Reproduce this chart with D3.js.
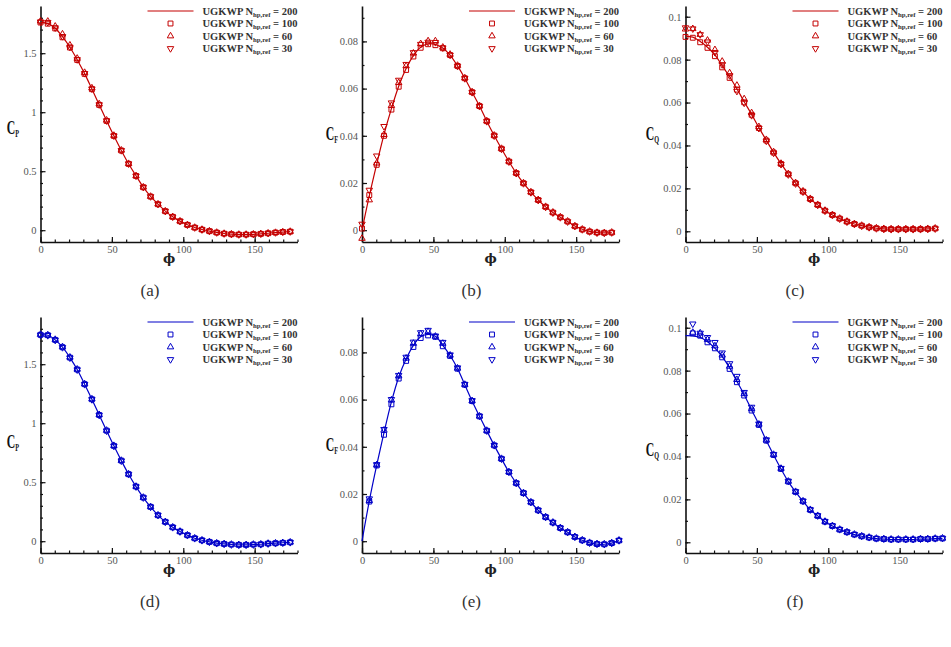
<!DOCTYPE html>
<html>
<head>
<meta charset="utf-8">
<script src="https://cdn.jsdelivr.net/npm/d3@7"></script>
<style>
  body { margin: 0; background: #fff; }
  svg text { font-family: "Liberation Serif", "Times New Roman", serif; }
  .legend text { font-size: 10.5px; font-weight: bold; fill: #333; }
  .caption { font-size: 17px; fill: #333; }
  .ylab { font-size: 19px; font-weight: bold; fill: #111; }
  .xlab { font-size: 13px; font-weight: bold; fill: #222; font-family: "DejaVu Serif", serif !important; }
</style>
</head>
<body>
<svg width="951" height="647"></svg>
<script>
// phi positions of the markers
const phiA = [0,5.1,10.3,15.4,20.6,25.7,30.9,36,41.1,46.3,51.4,56.6,61.7,66.9,72,77.1,82.3,87.4,92.6,97.7,102.9,108,113.1,118.3,123.4,128.6,133.7,138.9,144,149.1,154.3,159.4,164.6,169.7,174.9]
const phiB = [5.1,10.3,15.4,20.6,25.7,30.9,36,41.1,46.3,51.4,56.6,61.7,66.9,72,77.1,82.3,87.4,92.6,97.7,102.9,108,113.1,118.3,123.4,128.6,133.7,138.9,144,149.1,154.3,159.4,164.6,169.7,174.9,180]
const phiBLine = [0,5.1,10.3,15.4,20.6,25.7,30.9,36,41.1,46.3,51.4,56.6,61.7,66.9,72,77.1,82.3,87.4,92.6,97.7,102.9,108,113.1,118.3,123.4,128.6,133.7,138.9,144,149.1,154.3,159.4,164.6,169.7,174.9,180]

const legendLabels = ["200", "100", "60", "30"]
const captions = ["(a)", "(b)", "(c)", "(d)", "(e)", "(f)"]

// (a) Cp, red
const cpA_200 = [1.76,1.752,1.712,1.64,1.55,1.445,1.327,1.197,1.064,0.928,0.8,0.676,0.563,0.461,0.365,0.286,0.221,0.162,0.114,0.077,0.046,0.023,0.006,-0.008,-0.019,-0.028,-0.034,-0.037,-0.037,-0.035,-0.031,-0.026,-0.021,-0.016,-0.012]
const cpA_100 = [1.76,1.75,1.71,1.635,1.548,1.443,1.325,1.195,1.062,0.926,0.799,0.675,0.562,0.46,0.364,0.285,0.22,0.161,0.113,0.076,0.045,0.022,0.005,-0.008,-0.02,-0.029,-0.034,-0.037,-0.037,-0.034,-0.031,-0.026,-0.02,-0.015,-0.012]
const cpA_60 = [1.772,1.77,1.728,1.662,1.568,1.456,1.336,1.205,1.07,0.932,0.803,0.678,0.564,0.461,0.365,0.286,0.221,0.162,0.114,0.077,0.046,0.023,0.006,-0.007,-0.019,-0.028,-0.033,-0.036,-0.036,-0.034,-0.03,-0.025,-0.02,-0.015,-0.011]
const cpA_30 = [1.766,1.762,1.716,1.642,1.552,1.446,1.329,1.198,1.064,0.928,0.8,0.676,0.563,0.46,0.364,0.285,0.22,0.161,0.113,0.076,0.045,0.022,0.005,-0.008,-0.02,-0.029,-0.034,-0.037,-0.037,-0.034,-0.031,-0.026,-0.02,-0.015,-0.012]

// (b) Cf, red
const cfB_200 = [0,0.0145,0.028,0.0405,0.0515,0.061,0.0685,0.074,0.0775,0.079,0.0787,0.0772,0.0742,0.0696,0.0644,0.0585,0.0526,0.0462,0.0401,0.0345,0.0291,0.0242,0.0199,0.0161,0.0128,0.0099,0.0075,0.0055,0.0037,0.0018,0.0004,-0.0005,-0.001,-0.0011,-0.001]
const cfB_100 = [0.0007,0.0149,0.0277,0.04,0.0511,0.0608,0.0679,0.0736,0.0773,0.0788,0.0784,0.0771,0.0742,0.0696,0.0644,0.0585,0.0526,0.0462,0.0401,0.0345,0.0291,0.0242,0.0199,0.0161,0.0128,0.0099,0.0075,0.0055,0.0037,0.0017,0.0003,-0.0006,-0.001,-0.0011,-0.001]
const cfB_60 = [-0.0035,0.0128,0.0284,0.0405,0.0528,0.0625,0.0696,0.075,0.079,0.0802,0.0802,0.0775,0.0745,0.0698,0.0645,0.0586,0.0527,0.0463,0.0402,0.0346,0.0292,0.0243,0.02,0.0162,0.0129,0.01,0.0076,0.0056,0.0038,0.0018,0.0004,-0.0005,-0.001,-0.0011,-0.0009]
const cfB_30 = [0.0026,0.017,0.0315,0.044,0.054,0.0636,0.0703,0.0753,0.0788,0.0797,0.0796,0.0773,0.0742,0.0695,0.0643,0.0584,0.0525,0.0461,0.04,0.0344,0.029,0.0241,0.0198,0.016,0.0127,0.0098,0.0074,0.0054,0.0036,0.0017,0.0003,-0.0006,-0.0011,-0.0012,-0.001]

// (c) Cq, red
const cqC_200 = [0.091,0.0905,0.0885,0.0858,0.0822,0.0772,0.072,0.0664,0.0604,0.0545,0.0483,0.0424,0.0368,0.0315,0.0267,0.0224,0.0185,0.015,0.0123,0.0096,0.0076,0.0059,0.0045,0.0034,0.0026,0.0019,0.0014,0.0011,0.001,0.001,0.001,0.001,0.001,0.0011,0.0013]
const cqC_100 = [0.0906,0.0902,0.0881,0.0855,0.0816,0.0764,0.0715,0.066,0.0601,0.0543,0.0481,0.0423,0.0367,0.0314,0.0266,0.0224,0.0185,0.015,0.0123,0.0096,0.0076,0.0059,0.0045,0.0034,0.0026,0.0019,0.0014,0.0011,0.001,0.001,0.001,0.001,0.001,0.0011,0.0013]
const cqC_60 = [0.0942,0.0944,0.0917,0.089,0.0846,0.0792,0.0738,0.068,0.0617,0.0552,0.0487,0.0427,0.037,0.0316,0.0268,0.0226,0.0187,0.0152,0.0124,0.0097,0.0077,0.006,0.0046,0.0035,0.0027,0.002,0.0015,0.0012,0.0011,0.0011,0.0011,0.0011,0.0011,0.0012,0.0014]
const cqC_30 = [0.0949,0.0944,0.0917,0.0883,0.0834,0.0777,0.0726,0.0653,0.0598,0.054,0.048,0.0421,0.0365,0.0312,0.0264,0.0222,0.0184,0.0149,0.0122,0.0095,0.0075,0.0058,0.0044,0.0033,0.0025,0.0018,0.0013,0.001,0.0009,0.0009,0.0009,0.0009,0.0009,0.001,0.0012]

// (d) Cp, blue
const cpD_200 = [1.749,1.745,1.706,1.644,1.556,1.455,1.331,1.203,1.07,0.937,0.808,0.683,0.568,0.463,0.37,0.291,0.221,0.164,0.118,0.082,0.051,0.025,0.008,-0.006,-0.017,-0.023,-0.028,-0.031,-0.031,-0.029,-0.026,-0.021,-0.017,-0.013,-0.009]
const cpD_100 = [1.749,1.746,1.706,1.644,1.556,1.455,1.331,1.203,1.07,0.937,0.808,0.683,0.568,0.463,0.37,0.291,0.22,0.164,0.118,0.082,0.051,0.025,0.008,-0.006,-0.017,-0.023,-0.028,-0.031,-0.031,-0.028,-0.026,-0.02,-0.017,-0.014,-0.009]
const cpD_60 = [1.752,1.748,1.709,1.647,1.559,1.457,1.333,1.205,1.072,0.939,0.81,0.684,0.569,0.464,0.371,0.292,0.221,0.165,0.119,0.083,0.052,0.026,0.009,-0.005,-0.016,-0.022,-0.027,-0.03,-0.03,-0.027,-0.025,-0.019,-0.016,-0.013,-0.008]
const cpD_30 = [1.747,1.744,1.704,1.642,1.554,1.453,1.329,1.201,1.068,0.935,0.806,0.681,0.567,0.462,0.369,0.29,0.22,0.163,0.117,0.081,0.05,0.024,0.007,-0.007,-0.018,-0.024,-0.029,-0.032,-0.032,-0.029,-0.027,-0.021,-0.018,-0.014,-0.01]

// (e) Cf, blue
const cfE_200 = [0,0.017,0.0322,0.046,0.059,0.0695,0.0772,0.083,0.0866,0.0876,0.0868,0.083,0.0787,0.0732,0.0663,0.0594,0.0529,0.0468,0.0406,0.0349,0.0293,0.0246,0.0204,0.0165,0.0131,0.0102,0.0079,0.0056,0.0038,0.0018,0.0004,-0.0007,-0.0012,-0.0013,-0.0008,0.0003]
const cfE_100 = [0.0168,0.0321,0.0451,0.058,0.0689,0.0764,0.0823,0.0861,0.0872,0.0866,0.0826,0.0785,0.0731,0.0663,0.0594,0.0529,0.0468,0.0406,0.0349,0.0293,0.0246,0.0204,0.0165,0.0131,0.0102,0.0079,0.0056,0.0038,0.0018,0.0004,-0.0007,-0.0012,-0.0013,-0.0008,0.0003]
const cfE_60 = [0.0172,0.0323,0.047,0.0598,0.07,0.0775,0.0838,0.0878,0.0888,0.0868,0.0838,0.0788,0.0733,0.0664,0.0595,0.053,0.0469,0.0407,0.035,0.0294,0.0247,0.0205,0.0166,0.0132,0.0103,0.008,0.0057,0.0039,0.0019,0.0005,-0.0006,-0.0011,-0.0012,-0.0007,0.0004]
const cfE_30 = [0.018,0.0325,0.0474,0.0601,0.0703,0.078,0.0844,0.0884,0.0894,0.087,0.0843,0.079,0.0735,0.0665,0.0596,0.053,0.0468,0.0406,0.0349,0.0293,0.0246,0.0204,0.0165,0.0131,0.0102,0.0079,0.0056,0.0038,0.0018,0.0004,-0.0007,-0.0012,-0.0013,-0.0008,0.0003]

// (f) Cq, blue
const cqF_200 = [0.0963,0.0962,0.0955,0.0935,0.0905,0.0865,0.0812,0.075,0.0688,0.0617,0.055,0.0474,0.0407,0.0342,0.0283,0.0235,0.0191,0.0151,0.0123,0.0096,0.0076,0.0059,0.0047,0.0036,0.0028,0.0022,0.0017,0.0015,0.0013,0.0013,0.0013,0.0013,0.0015,0.0015,0.0017,0.0018]
const cqF_100 = [0.0974,0.0963,0.0932,0.0904,0.0862,0.0808,0.0746,0.0684,0.0614,0.0547,0.0474,0.0407,0.0342,0.0283,0.0235,0.0191,0.0151,0.0123,0.0096,0.0076,0.0059,0.0047,0.0036,0.0028,0.0022,0.0017,0.0015,0.0013,0.0013,0.0013,0.0013,0.0015,0.0015,0.0017,0.0018]
const cqF_60 = [0.0978,0.0975,0.0945,0.0915,0.0872,0.082,0.0758,0.0692,0.0622,0.055,0.0476,0.0409,0.0344,0.0284,0.0236,0.0192,0.0152,0.0124,0.0097,0.0077,0.006,0.0048,0.0037,0.0029,0.0023,0.0018,0.0016,0.0014,0.0014,0.0014,0.0014,0.0016,0.0016,0.0018,0.0019]
const cqF_30 = [0.1018,0.0975,0.0955,0.0932,0.0883,0.0833,0.0774,0.0699,0.063,0.0552,0.0478,0.041,0.0345,0.0285,0.0236,0.0192,0.0152,0.0124,0.0097,0.0077,0.006,0.0048,0.0037,0.0029,0.0023,0.0018,0.0016,0.0014,0.0014,0.0014,0.0014,0.0016,0.0016,0.0018,0.0019]

const xTicks = [0, 50, 100, 150]
const cpTicks = [0, 0.5, 1, 1.5]
const cfTicks = [0, 0.02, 0.04, 0.06, 0.08]
const cqTicks = [0, 0.02, 0.04, 0.06, 0.08, 0.1]

const red = "#c40000"
const blue = "#0000c8"

const kinds = {
  P: { domain: [-0.1, 1.9], ticks: cpTicks, minor: 0.1 },
  F: { domain: [-0.005, 0.095], ticks: cfTicks, minor: 0.01 },
  Q: { domain: [-0.005, 0.105], ticks: cqTicks, minor: 0.01 }
}

// layout: ylab = [right end, left of axis; offset below plot middle]
const panels = [
  { col: 0, row: 0, q: "P", color: red, linePhi: phiA, markPhi: phiA, line: cpA_200, s: [cpA_100, cpA_60, cpA_30], ylab: [21.5, 3.5] },
  { col: 1, row: 0, q: "F", color: red, linePhi: phiA, markPhi: phiA, line: cfB_200, s: [cfB_100, cfB_60, cfB_30], ylab: [24, 10] },
  { col: 2, row: 0, q: "Q", color: red, linePhi: phiA, markPhi: phiA, line: cqC_200, s: [cqC_100, cqC_60, cqC_30], ylab: [26.5, 10] },
  { col: 0, row: 1, q: "P", color: blue, linePhi: phiA, markPhi: phiA, line: cpD_200, s: [cpD_100, cpD_60, cpD_30], ylab: [21.5, 6.5] },
  { col: 1, row: 1, q: "F", color: blue, linePhi: phiBLine, markPhi: phiB, line: cfE_200, s: [cfE_100, cfE_60, cfE_30], ylab: [24, 10] },
  { col: 2, row: 1, q: "Q", color: blue, linePhi: phiBLine, markPhi: phiB, line: cqF_200, s: [cqF_100, cqF_60, cqF_30], ylab: [26.5, 14.5] }
]

const colX = [40.5, 362, 685.5]
const rowY = [6, 317]
const W = 257, H = 236

const svg = d3.select("svg")
svg.append("rect").attr("width", 951).attr("height", 647).attr("fill", "#fff")

const symbols = [
  d3.symbol().type(d3.symbolSquare).size(24),
  d3.symbol().type(d3.symbolTriangle).size(18),
  d3.symbol().type(d3.symbolTriangle).size(18)
]
const rot = [0, 0, 180]

const fmt = d => d === 0 ? "0" : String(+d.toFixed(3))

panels.forEach((p, pi) => {
  const k = kinds[p.q]
  const g = svg.append("g").attr("transform", `translate(${colX[p.col]},${rowY[p.row]})`)

  const x = d3.scaleLinear().domain([0, 180]).range([0, W])
  const y = d3.scaleLinear().domain(k.domain).range([H, 0])

  // minor ticks
  g.append("g")
    .attr("transform", `translate(0,${H})`)
    .call(d3.axisBottom(x).tickValues(d3.range(0, 181, 10)).tickSizeInner(-2.5).tickSizeOuter(0).tickFormat(""))
    .call(a => a.select(".domain").remove())
  g.append("g")
    .call(d3.axisLeft(y).tickValues(d3.range(Math.ceil(k.domain[0] / k.minor), Math.floor(k.domain[1] / k.minor) + 1).map(i => i * k.minor)).tickSizeInner(-2.5).tickSizeOuter(0).tickFormat(""))
    .call(a => a.select(".domain").remove())

  // major axes
  const xa = g.append("g")
    .attr("transform", `translate(0,${H})`)
    .call(d3.axisBottom(x).tickValues(xTicks).tickSizeInner(-5).tickSizeOuter(0).tickPadding(4).tickFormat(fmt))
  const ya = g.append("g")
    .call(d3.axisLeft(y).tickValues(k.ticks).tickSizeInner(-5).tickSizeOuter(0).tickPadding(4).tickFormat(fmt))

  ;[xa, ya].forEach(a => {
    a.attr("font-family", null).attr("font-size", null)
    a.select(".domain").attr("stroke", "#111").attr("stroke-width", 1.6)
    a.selectAll(".tick text").attr("font-size", 10.5).attr("fill", "#555")
      .style("font-family", "'Liberation Serif', serif")
  })
  g.selectAll(".tick line").attr("stroke", "#111").attr("stroke-width", 1.2)

  // line for N = 200
  const line = d3.line().x((d, i) => x(p.linePhi[i])).y(d => y(d)).curve(d3.curveCatmullRom)
  g.append("path").datum(p.line)
    .attr("d", line)
    .attr("fill", "none")
    .attr("stroke", p.color)
    .attr("stroke-width", 1.2)

  // markers for N = 100, 60, 30
  p.s.forEach((vals, si) => {
    g.append("g").selectAll("path")
      .data(vals)
      .enter()
      .append("path")
      .attr("d", symbols[si])
      .attr("transform", (d, i) => `translate(${x(p.markPhi[i])},${y(d)}) rotate(${rot[si]})`)
      .attr("fill", "none")
      .attr("stroke", p.color)
      .attr("stroke-width", 1)
  })

  // legend
  const lg = g.append("g").attr("class", "legend")
  legendLabels.forEach((lab, li) => {
    const cy = 5 + li * 12.5
    if (li === 0) {
      lg.append("line").attr("x1", W - 150).attr("x2", W - 104).attr("y1", cy).attr("y2", cy)
        .attr("stroke", p.color).attr("stroke-width", 1.2)
    } else {
      lg.append("path").attr("d", symbols[li - 1])
        .attr("transform", `translate(${W - 127},${cy}) rotate(${rot[li - 1]})`)
        .attr("fill", "none").attr("stroke", p.color).attr("stroke-width", 1)
    }
    const t = lg.append("text").attr("x", W - 95).attr("y", cy + 3.5)
    t.append("tspan").text("UGKWP N")
    t.append("tspan").attr("font-size", 6.8).attr("dy", 2).text("hp,ref")
    t.append("tspan").attr("dy", -2).text(" = " + lab)
  })

  // axis titles
  g.append("text").attr("class", "xlab")
    .attr("x", W / 2).attr("y", H + 21)
    .attr("text-anchor", "middle")
    .text("\u03D5")
  const yl = g.append("text").attr("class", "ylab")
    .attr("transform", `translate(${-p.ylab[0]},${H / 2 + p.ylab[1] + 6}) scale(0.62,1)`)
    .attr("text-anchor", "end")
  yl.append("tspan").text("C")
  yl.append("tspan").attr("font-size", 10).attr("dy", 3).text(p.q)

  // caption
  svg.append("text").attr("class", "caption")
    .attr("x", colX[p.col] + W / 2 - 19)
    .attr("y", rowY[p.row] + 290)
    .attr("text-anchor", "middle")
    .text(captions[pi])
})
</script>
</body>
</html>
